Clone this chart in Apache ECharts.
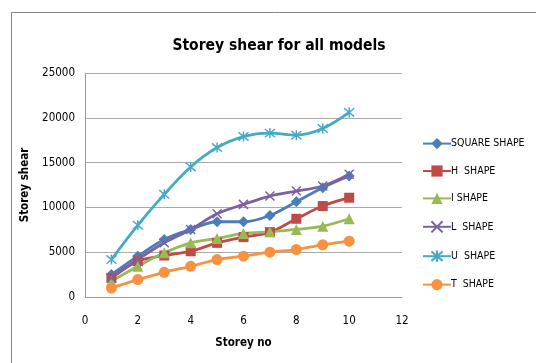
<!DOCTYPE html>
<html>
<head>
<meta charset="utf-8">
<script src="https://cdn.jsdelivr.net/npm/echarts@6/dist/echarts.min.js"></script>
<style>
  html, body { margin: 0; padding: 0; background: #fff; }
  #chart { width: 536px; height: 363px; }
</style>
</head>
<body>
<div id="chart"></div>
<script>
// Storey numbers and storey shear per building shape
const storeys = [1, 2, 3, 4, 5, 6, 7, 8, 9, 10];
const squareShape = [2500, 4550, 6420, 7540, 8400, 8400, 9100, 10630, 12200, 13500];
const hShape = [2130, 4000, 4630, 5110, 6045, 6680, 7240, 8730, 10150, 11080];
const iShape = [1750, 3430, 4930, 6045, 6530, 7090, 7280, 7540, 7910, 8730];
const lShape = [2130, 4180, 6045, 7540, 9290, 10340, 11270, 11830, 12390, 13700];
const uShape = [4180, 8020, 11455, 14515, 16680, 17910, 18290, 18060, 18800, 20600];
const tShape = [1000, 1940, 2760, 3430, 4180, 4550, 5000, 5300, 5820, 6230];
const seriesNames = ['SQUARE SHAPE', 'H  SHAPE', 'I SHAPE', 'L  SHAPE', 'U  SHAPE', 'T  SHAPE'];

const font = '"DejaVu Sans Condensed", "Liberation Sans", sans-serif';
const crossPath = 'path://M0,0L10,10M10,0L0,10';
const starPath = 'path://M0,0L10,10M10,0L0,10M5,-1L5,11';

function pairs(vals) { return vals.map((v, i) => [storeys[i], v]); }

function makeSeries(name, vals, color, symbol, size, stroke) {
  return {
    name: name,
    type: 'line',
    smooth: 0.35,
    data: pairs(vals),
    symbol: symbol,
    symbolSize: size,
    showSymbol: true,
    lineStyle: { color: color, width: 2.8 },
    itemStyle: stroke
      ? { color: color, borderColor: color, borderWidth: 1.5 }
      : { color: color, borderWidth: 0 },
    emphasis: { disabled: true },
    z: 2
  };
}

const chart = echarts.init(document.getElementById('chart'), null, { renderer: 'canvas' });
chart.setOption({
  animation: false,
  backgroundColor: '#fff',
  graphic: [{
    type: 'rect',
    shape: { x: 11.5, y: 12.5, width: 540, height: 360 },
    style: { fill: 'none', stroke: '#888', lineWidth: 1 },
    silent: true
  }],
  title: {
    text: 'Storey shear for all models',
    left: 274, top: 33, textAlign: 'center',
    textStyle: { fontFamily: font, fontSize: 15.5, fontWeight: 'bold', color: '#000' }
  },
  legend: {
    orient: 'vertical',
    left: 417, top: 133,
    itemWidth: 28, itemHeight: 14, itemGap: 16.2,
    data: seriesNames,
    textStyle: { fontFamily: font, fontSize: 10.5, color: '#000', padding: [0, 0, 0, -5] }
  },
  grid: { left: 85, right: 134, top: 73, bottom: 66 },
  xAxis: {
    type: 'value', min: 0, max: 12, interval: 2,
    name: 'Storey no', nameLocation: 'middle', nameGap: 40,
    nameTextStyle: { fontFamily: font, fontSize: 11.5, fontWeight: 'bold', color: '#000' },
    axisLine: { show: true, lineStyle: { color: '#999' } },
    axisTick: { show: false },
    splitLine: { show: false },
    axisLabel: { fontFamily: font, fontSize: 11.5, color: '#000', margin: 18 }
  },
  yAxis: {
    type: 'value', min: 0, max: 25000, interval: 5000,
    name: 'Storey shear', nameLocation: 'middle', nameGap: 42,
    nameTextStyle: { fontFamily: font, fontSize: 11.5, fontWeight: 'bold', color: '#000' },
    axisLine: { show: true, lineStyle: { color: '#999' } },
    axisTick: { show: false },
    splitLine: { show: true, lineStyle: { color: '#aaa' } },
    axisLabel: { fontFamily: font, fontSize: 11.5, color: '#000', margin: 10, formatter: v => String(v) }
  },
  series: [
    makeSeries(seriesNames[0], squareShape, '#4A7EBB', 'diamond', 11, false),
    makeSeries(seriesNames[1], hShape, '#BE4B48', 'rect', 10, false),
    makeSeries(seriesNames[2], iShape, '#98B954', 'triangle', 11, false),
    makeSeries(seriesNames[3], lShape, '#7D60A0', crossPath, 9, true),
    makeSeries(seriesNames[4], uShape, '#46AAC5', starPath, 10, true),
    makeSeries(seriesNames[5], tShape, '#F69240', 'circle', 11, false)
  ]
});
</script>
</body>
</html>
